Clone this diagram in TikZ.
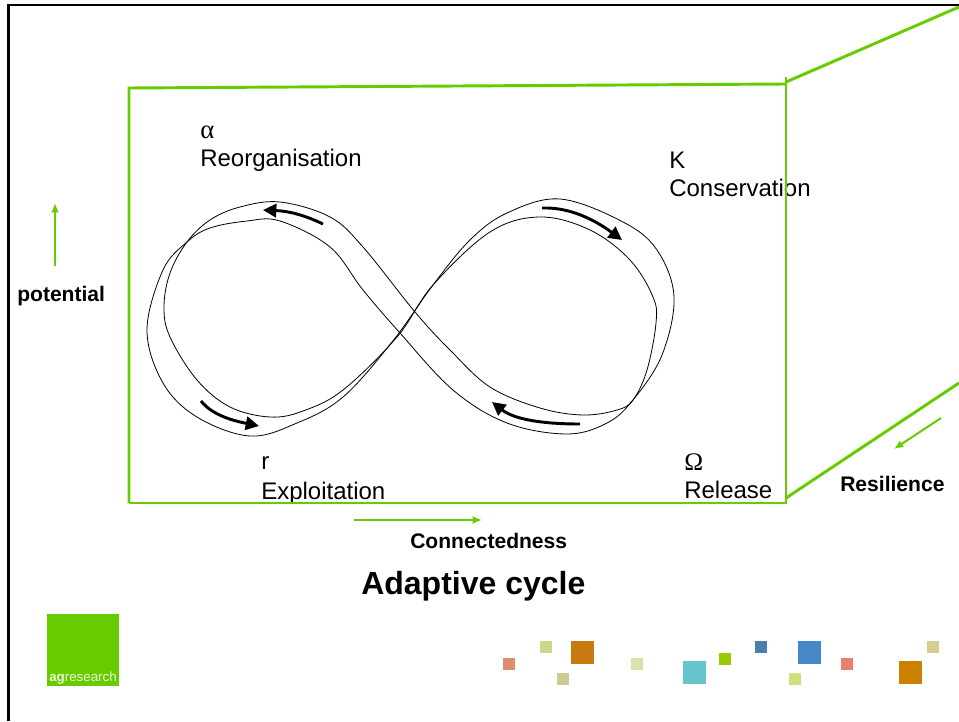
\documentclass[tikz,border=0pt]{standalone}
\usepackage{fontspec}
\setmainfont{Liberation Sans}
\newfontfamily\symbfont{Liberation Serif}
\usetikzlibrary{arrows.meta}

\definecolor{framegreen}{RGB}{102,204,0}

\tikzset{
    frameline/.style={draw=framegreen, line width=2.2pt},
    axisarrow/.style={draw=framegreen, line width=1.5pt, -{Latex[length=7pt,width=6pt]}},
    flowarrow/.style={draw=black, line width=2.2pt, -{Triangle[length=10pt,width=10pt]}},
    cycleline/.style={draw=black, line width=0.6pt},
    phaselabel/.style={anchor=base west, inner sep=0pt, font=\fontsize{18}{20}\selectfont},
    axislabel/.style={anchor=base west, inner sep=0pt, font=\fontsize{15.8}{18}\selectfont\bfseries},
}

\begin{document}
\begin{tikzpicture}[x=0.75pt,y=0.75pt,yscale=-1,xscale=1]
    \useasboundingbox (0,0) rectangle (959,721);

    %Slide border
    \draw [line width=2.2pt] (8.5,721) -- (8.5,5) -- (959,5);

    % Text Node
    \node (alphasym) [phaselabel] at (200,138) {\symbfont\fontsize{20}{22}\selectfont α};
    \node (reorg) [phaselabel] at (200,166) {Reorganisation};
    \node (ksym) [phaselabel] at (669,168) {K};
    \node (conserv) [phaselabel] at (669,196) {Conservation};
    \node (rsym) [phaselabel] at (261,469) {r};
    \node (exploit) [phaselabel] at (261,499) {Exploitation};
    \node (omegasym) [phaselabel] at (684,470) {\symbfont\fontsize{19}{21}\selectfont Ω};
    \node (release) [phaselabel] at (684,498) {Release};
    \node (potential) [axislabel] at (17,301) {potential};
    \node (connected) [axislabel] at (410,548) {Connectedness};
    \node (resilience) [axislabel] at (840,491) {Resilience};
    \node (title) [anchor=base west, inner sep=0pt, font=\fontsize{24}{28}\selectfont\bfseries] at (361,594) {Adaptive cycle};

    %Frame
    \draw [frameline] (129,503) -- (129,88) -- (786,84);
    \draw [frameline] (129,503) -- (786,503);
    \draw [frameline] (786,77) -- (786,504);
    \draw [frameline] (786,82) -- (959,7);
    \draw [frameline] (786,498) -- (959,383);

    %Axis arrows
    \coordinate (upfrom) at (55,266);
    \coordinate (upto) at (55,203);
    \coordinate (rightfrom) at (354,520);
    \coordinate (rightto) at (482,520);
    \coordinate (backfrom) at (941,418);
    \coordinate (backto) at (894,449);
    \draw [axisarrow] (upfrom) -- (upto);
    \draw [axisarrow] (rightfrom) -- (rightto);
    \draw [axisarrow] (backfrom) -- (backto);

    %Cycle, two closed strands
    \draw [cycleline] plot [smooth cycle, tension=0.6] coordinates {
        (280,202) (330,217) (363,247) (415,312) (450,350) (490,387)
        (540,408) (583,415) (617,410) (633,400) (647,370) (656,323) (653,297)
        (630,260) (590,230) (540,217) (490,232) (433,285) (397,337)
        (343,390) (303,411) (270,417) (230,407) (197,380) (170,337) (164,307) (170,273)
        (187,242) (210,220) (240,207)};
    \draw [cycleline] plot [smooth cycle, tension=0.6] coordinates {
        (280,221) (330,247) (363,290) (400,333) (453,390) (507,423) (567,434)
        (607,423) (633,400) (662,355) (674,297) (657,250) (623,222) (560,199)
        (507,213) (470,240) (433,285) (392,342) (343,397) (297,423) (250,436) (197,417)
        (163,383) (147,330) (163,270) (187,242) (210,228) (247,221)};

    %Flow arrows
    \coordinate (alphafrom) at (323,224);
    \coordinate (alphato) at (263,210);
    \coordinate (kfrom) at (542,208);
    \coordinate (kto) at (622,240);
    \coordinate (omegafrom) at (580,424);
    \coordinate (omegato) at (492,402);
    \coordinate (rfrom) at (201,401);
    \coordinate (rto) at (259,426);
    \draw [flowarrow] (alphafrom) .. controls (300,213) and (285,211) .. (alphato);
    \draw [flowarrow] (kfrom) .. controls (570,207) and (595,220) .. (kto);
    \draw [flowarrow] (omegafrom) .. controls (545,424) and (515,420) .. (omegato);
    \draw [flowarrow] (rfrom) .. controls (213,416) and (235,421) .. (rto);

    %Logo
    \node (logo) [fill=framegreen, minimum size=54pt, inner sep=0pt, anchor=north west] at (47,614) {};
    \node (logotext) [anchor=base, inner sep=0pt, text=white!85!framegreen, font=\fontsize{10}{11}\selectfont] at (83,681) {\textbf{ag}research};

    %Small squares
    \foreach \px/\py/\ps/\pc in {
        503/658/12/E08C70, 540/641/12/C8D88C, 571/641/23/C87A10, 557/673/12/CCCC90,
        631/658/12/D8E4AC, 683/661/23/66C4CC, 719/653/12/99CC00, 755/641/12/4C7FB0,
        798/641/23/4488C8, 841/658/12/E88070, 789/673/12/CCE080, 927/641/12/D8CC90,
        899/661/23/CC8000}
    {
        \definecolor{squarefill}{HTML}{\pc}
        \fill [squarefill] (\px,\py) rectangle ++(\ps,\ps);
    }
\end{tikzpicture}
\end{document}
